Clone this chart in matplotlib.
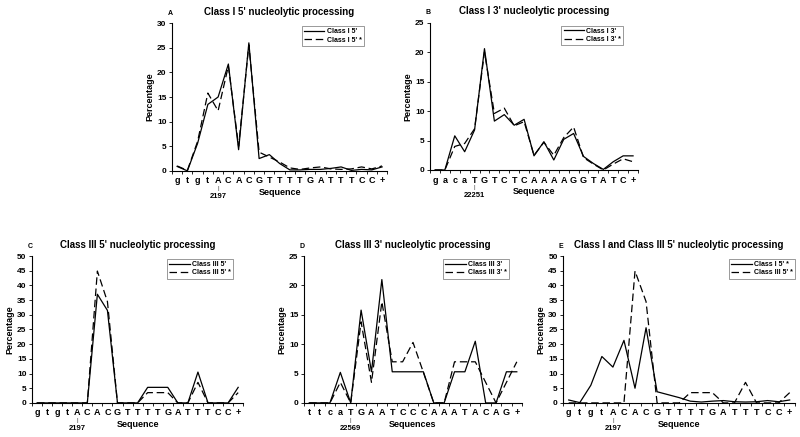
import matplotlib.pyplot as plt
from matplotlib.ticker import FixedLocator, MultipleLocator
import numpy as np

plt.rcParams.update({
    "font.family": ["Liberation Sans", "DejaVu Sans"],
    "font.weight": "bold",
    "axes.linewidth": 0.8,
})

# sequences on the x axes
seq_5p = ["g", "t", "g", "t", "A", "C", "A", "C", "G", "T", "T", "T", "T",
          "G", "A", "T", "T", "T", "C", "C", "+"]
seq_cl1_3p = ["g", "a", "c", "a", "T", "G", "T", "C", "T", "C", "A", "A", "A",
              "A", "G", "G", "T", "A", "T", "C", "+"]
seq_cl3_3p = ["t", "t", "c", "a", "T", "G", "A", "A", "T", "C", "C", "C", "A",
              "A", "A", "T", "A", "C", "A", "G", "+"]

# percentages
cl1_5p = [0.9, 0.0, 5.6, 13.5, 15.0, 21.7, 4.3, 26.0, 2.5, 3.3, 1.5, 0.2, 0.2,
          0.3, 0.3, 0.5, 0.8, 0.1, 0.3, 0.2, 0.8]
cl1_5p_star = [1.0, 0.1, 6.0, 15.8, 12.2, 21.3, 5.0, 25.6, 3.8, 2.8, 1.8, 0.6,
               0.3, 0.6, 0.8, 0.4, 0.3, 0.4, 0.8, 0.4, 1.0]
cl1_3p = [0.0, 0.0, 5.8, 3.1, 6.8, 20.6, 8.3, 9.4, 7.6, 8.6, 2.4, 4.8, 1.7,
          5.2, 6.2, 2.3, 1.1, 0.1, 1.4, 2.4, 2.4]
cl1_3p_star = [0.0, 0.0, 4.0, 4.5, 7.0, 20.0, 9.6, 10.5, 7.5, 8.2, 2.5, 4.7,
               2.5, 5.5, 7.3, 2.1, 1.0, 0.0, 1.0, 1.9, 1.4]
cl3_5p = [0, 0, 0, 0, 0, 0, 37.0, 31.5, 0, 0, 0, 5.3, 5.3, 5.3, 0, 0, 10.5,
          0, 0, 0, 5.3]
cl3_5p_star = [0, 0, 0, 0, 0, 0, 44.9, 34.5, 0, 0, 0, 3.5, 3.5, 3.5, 0, 0,
               7.0, 0, 0, 0, 3.5]
cl3_3p = [0, 0, 0, 5.2, 0, 15.8, 5.3, 21.0, 5.3, 5.3, 5.3, 5.3, 0, 0, 5.3,
          5.3, 10.5, 0, 0, 5.3, 5.3]
cl3_3p_star = [0, 0, 0, 3.5, 0, 13.8, 3.5, 17.2, 7.0, 7.0, 10.3, 5.2, 0, 0,
               7.0, 7.0, 7.0, 3.5, 0, 3.5, 7.0]

fig = plt.figure(figsize=(8, 4.37), dpi=100)


def panel(rect, letter, title, seq, s1, s2, lab1, lab2, ymax, ystep,
          marker, xlabel, legx):
    ax = fig.add_axes(rect)
    x = np.arange(len(seq))
    ax.plot(x, s1, color="black", lw=0.9, label=lab1)
    ax.plot(x, s2, color="black", lw=0.9, dashes=(6, 3), label=lab2)
    ax.set_xlim(-0.5, len(seq) - 0.5)
    ax.set_ylim(0, ymax)
    ax.yaxis.set_major_locator(MultipleLocator(ystep))
    ax.set_xticks(x)
    ax.set_xticklabels(seq, fontsize=6.5, fontweight="bold")
    ax.xaxis.set_minor_locator(FixedLocator(np.arange(len(seq) + 1) - 0.5))
    ax.tick_params(axis="x", which="major", length=0, pad=4)
    ax.tick_params(axis="x", which="minor", length=2.5, width=0.6)
    ax.tick_params(axis="y", length=2.5, width=0.6, labelsize=6, pad=1.5)
    for t in ax.get_yticklabels():
        t.set_fontweight("bold")
    for sp in ("top", "right"):
        ax.spines[sp].set_visible(False)
    ax.set_xlabel(xlabel, fontsize=6.5, fontweight="bold", labelpad=1.5)
    ax.set_ylabel("Percentage", fontsize=6.5, fontweight="bold", labelpad=2)
    ax.set_title(title, fontsize=7, fontweight="bold", pad=6)
    ax.text(-0.01, 1.068, letter, transform=ax.transAxes, fontsize=5,
            fontweight="bold", ha="center", va="center")
    ax.annotate("|", xy=(4, 0), xycoords=("data", "axes fraction"),
                xytext=(0, -11), textcoords="offset points", ha="center",
                va="top", fontsize=3.5, color="0.4", annotation_clip=False)
    ax.annotate(marker, xy=(4, 0), xycoords=("data", "axes fraction"),
                xytext=(0, -16), textcoords="offset points", ha="center",
                va="top", fontsize=5.5, fontweight="bold",
                annotation_clip=False)
    leg = ax.legend(loc="upper right", bbox_to_anchor=(legx, 0.98),
                    fontsize=5, frameon=True, fancybox=False,
                    handlelength=3.0, borderpad=0.3, labelspacing=0.2,
                    handletextpad=0.3, borderaxespad=0)
    leg.get_frame().set_edgecolor("0.3")
    leg.get_frame().set_linewidth(0.5)
    for t in leg.get_texts():
        t.set_fontweight("bold")
    return ax


panel([0.215, 0.609, 0.269, 0.338], "A", "Class I 5' nucleolytic processing",
      seq_5p, cl1_5p, cl1_5p_star, "Class I 5'", "Class I 5' *", 30, 5,
      "2197", "Sequence", 0.89)
panel([0.5375, 0.611, 0.26, 0.337], "B", "Class I 3' nucleolytic processing",
      seq_cl1_3p, cl1_3p, cl1_3p_star, "Class I 3'", "Class I 3' *", 25, 5,
      "22251", "Sequence", 0.93)
panel([0.04, 0.078, 0.264, 0.336], "C", "Class III 5' nucleolytic processing",
      seq_5p, cl3_5p, cl3_5p_star, "Class III 5'", "Class III 5' *", 50, 5,
      "2197", "Sequence", 0.95)
panel([0.38, 0.078, 0.2725, 0.336], "D", "Class III 3' nucleolytic processing",
      seq_cl3_3p, cl3_3p, cl3_3p_star, "Class III 3'", "Class III 3' *", 25, 5,
      "22569", "Sequences", 0.94)
panel([0.704, 0.078, 0.29, 0.336], "E",
      "Class I and Class III 5' nucleolytic processing",
      seq_5p, cl1_5p_star, cl3_5p_star, "Class I 5' *", "Class III 5' *", 50, 5,
      "2197", "Sequence", 1.0)

plt.savefig("out.png", dpi=100)
